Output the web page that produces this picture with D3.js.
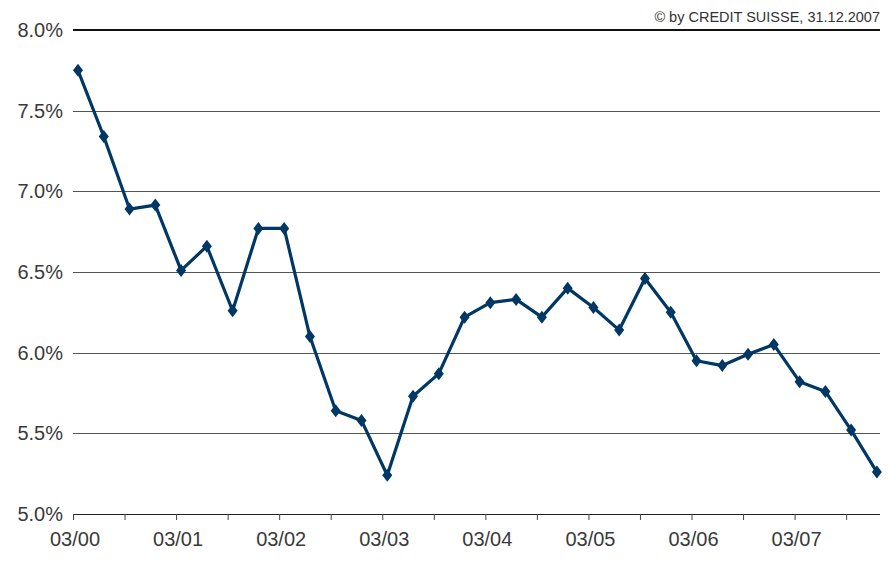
<!DOCTYPE html>
<html><head><meta charset="utf-8">
<script src="https://cdn.jsdelivr.net/npm/d3@7"></script>
<style>body{margin:0;background:#fff;} text{font-family:"Liberation Sans",Arial,sans-serif;}</style>
</head><body><svg id="c" width="892" height="565"></svg>
<script>
const values = [7.75,7.34,6.89,6.915,6.51,6.66,6.26,6.77,6.77,6.10,5.64,5.58,5.24,5.73,5.87,6.22,6.31,6.33,6.22,6.40,6.28,6.14,6.46,6.25,5.95,5.92,5.99,6.05,5.82,5.76,5.52,5.26];
const yTicks = [5.0,5.5,6.0,6.5,7.0,7.5,8.0];
const xLabels = ["03/00","03/01","03/02","03/03","03/04","03/05","03/06","03/07"];
const credit = "© by CREDIT SUISSE, 31.12.2007";

(function(){
const svg = d3.select("#c");
const pl = 73, pr = 880, pt = 30, pb = 514;
const x = d3.scaleLinear().domain([-0.194, 31.12]).range([pl, pr]);
const y = d3.scaleLinear().domain([5, 8]).range([pb, pt]);

svg.append("g").selectAll("line").data(yTicks.filter(d => d > 5 && d < 8)).join("line")
  .attr("x1", pl).attr("x2", pr)
  .attr("y1", d => Math.round(y(d)) + 0.5).attr("y2", d => Math.round(y(d)) + 0.5)
  .attr("stroke", "#555").attr("stroke-width", 1);
svg.append("line").attr("x1", pl).attr("x2", pr).attr("y1", y(8)).attr("y2", y(8))
  .attr("stroke", "#111").attr("stroke-width", 2);

svg.append("g").selectAll("text").data(yTicks).join("text")
  .attr("x", 63).attr("y", d => y(d) + 7)
  .attr("text-anchor", "end").attr("font-size", 20).attr("fill", "#3a3a3a")
  .text(d => d.toFixed(1) + "%");

const majorIdx = xLabels.map((d, i) => i * 4 - 0.194);
const minorIdx = xLabels.map((d, i) => i * 4 + 2 - 0.194);
const xAxis = d3.axisBottom(x).tickValues(majorIdx.concat(minorIdx)).tickSize(6).tickFormat("");
const gx = svg.append("g").attr("transform", `translate(0,${pb})`).call(xAxis);
gx.select(".domain").attr("d", `M${pl},0.5H${pr}`).attr("stroke", "#222").attr("stroke-width", 1.2);
gx.selectAll(".tick line").attr("stroke", "#444");
svg.append("g").selectAll("text").data(xLabels).join("text")
  .attr("x", (d, i) => x(majorIdx[i]) + 2).attr("y", 546)
  .attr("text-anchor", "middle").attr("font-size", 20).attr("fill", "#3a3a3a")
  .text(d => d);

svg.append("text").attr("x", 880).attr("y", 22).attr("text-anchor", "end")
  .attr("font-size", 14.5).attr("fill", "#333").text(credit);

const color = "#003764";
svg.append("path").datum(values)
  .attr("d", d3.line().x((d, i) => x(i)).y(d => y(d)))
  .attr("fill", "none").attr("stroke", color).attr("stroke-width", 3.2).attr("stroke-linejoin", "round");
svg.append("g").selectAll("path").data(values).join("path")
  .attr("transform", (d, i) => `translate(${x(i)},${y(d)})`)
  .attr("d", "M0,-6.5L5,0L0,6.5L-5,0Z").attr("fill", color);
})();
</script></body></html>
